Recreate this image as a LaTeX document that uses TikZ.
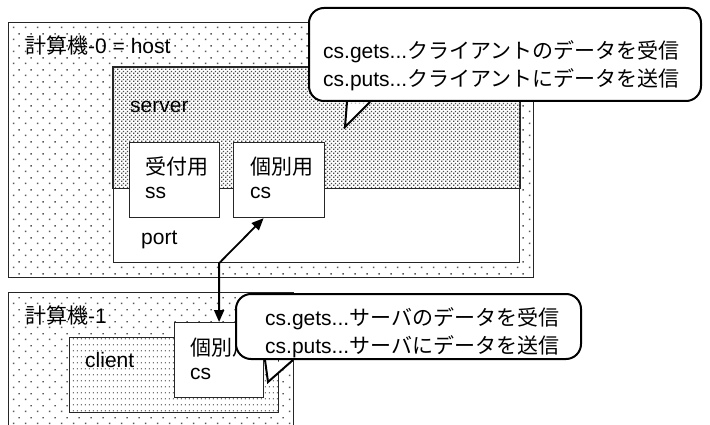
\documentclass[tikz,border=0pt]{standalone}
\usepackage{fontspec}
\setmainfont{Liberation Sans}
\newfontfamily\jp{Noto Sans CJK JP}
\usetikzlibrary{patterns,arrows.meta}

% dot fills
\pgfdeclarepatternformonly{hostdots}{\pgfqpoint{0pt}{0pt}}{\pgfqpoint{12pt}{12pt}}{\pgfqpoint{12pt}{12pt}}{%
  \pgfpathrectangle{\pgfqpoint{1pt}{1pt}}{\pgfqpoint{1.5pt}{1.5pt}}%
  \pgfpathrectangle{\pgfqpoint{7pt}{7pt}}{\pgfqpoint{1.5pt}{1.5pt}}%
  \pgfusepath{fill}}
\pgfdeclarepatternformonly{srvdots}{\pgfqpoint{0pt}{0pt}}{\pgfqpoint{4.2pt}{4.2pt}}{\pgfqpoint{4.2pt}{4.2pt}}{%
  \pgfpathrectangle{\pgfqpoint{0pt}{0pt}}{\pgfqpoint{1.6pt}{1.6pt}}%
  \pgfpathrectangle{\pgfqpoint{2.1pt}{2.1pt}}{\pgfqpoint{1.6pt}{1.6pt}}%
  \pgfusepath{fill}}
\pgfdeclarepatternformonly{clidots}{\pgfqpoint{0pt}{0pt}}{\pgfqpoint{4.3pt}{6pt}}{\pgfqpoint{4.3pt}{6pt}}{%
  \pgfpathrectangle{\pgfqpoint{1pt}{2pt}}{\pgfqpoint{1.2pt}{1.2pt}}%
  \pgfusepath{fill}}

\tikzset{
  box/.style={draw=black!85, line width=1.2pt, anchor=north west, inner sep=0pt},
  boxline/.style={draw=black!85, line width=1.2pt},
  lbl/.style={anchor=base west, inner sep=0pt, font=\fontsize{21}{24}\selectfont},
  lbl2/.style={anchor=north west, inner sep=0pt, align=left, font=\fontsize{21}{24}\selectfont},
  bubble/.style={draw, line width=2pt, fill=white, rounded corners=15pt, anchor=north west, inner sep=0pt},
  bubline/.style={line width=2pt, line join=miter},
  note/.style={anchor=north west, inner sep=0pt, align=left, font=\fontsize{21}{28}\selectfont},
  link/.style={{Triangle[length=12pt,width=10pt]}-{Triangle[length=12pt,width=10pt]}, line width=1.8pt}
}

\begin{document}
\begin{tikzpicture}[x=1pt,y=-1pt]
  \useasboundingbox (0,0) rectangle (710,425);
  \clip (0,0) rectangle (710,425);

  % host side
  \node[box, pattern=hostdots, pattern color=black!65, minimum width=525, minimum height=255] (host0) at (8,22) {};
  \node[lbl] (host0lbl) at (25,54) {{\jp 計算機}-0 = host};
  \node[box, fill=white, minimum width=406, minimum height=195] (srv) at (113,67) {};
  \draw[boxline, pattern=srvdots, pattern color=black!70] (srv.north west) rectangle ([yshift=75]srv.south east);
  \node[lbl] (srvlbl) at (130,113) {server};
  \node[lbl] (portlbl) at (141,244) {port};
  \node[box, fill=white, minimum width=90, minimum height=75] (ss0) at (129,142) {};
  \node[lbl2] (ss0lbl) at (145,157) {{\jp 受付用}\\ss};
  \node[box, fill=white, minimum width=91, minimum height=75] (cs0) at (233,142) {};
  \node[lbl2] (cs0lbl) at (250,157) {{\jp 個別用}\\cs};

  \node[bubble, minimum width=392, minimum height=93] (bub0) at (308,7) {};
  \coordinate (tip0) at (345,127);
  \fill[white] ([shift={(39,1.5)}]bub0.south west) -- (tip0) -- ([shift={(62,1.5)}]bub0.south west) -- cycle;
  \draw[bubline] ([xshift=39]bub0.south west) -- (tip0) -- ([xshift=62]bub0.south west);
  \node[note] (txt0) at (323,40) {cs.gets...{\jp クライアントのデータを受信}\\cs.puts...{\jp クライアントにデータを送信}};

  % client side
  \node[box, pattern=hostdots, pattern color=black!65, minimum width=285, minimum height=160] (host1) at (8,292) {};
  \node[lbl] (host1lbl) at (25,323) {{\jp 計算機}-1};
  \node[box, preaction={fill=white}, pattern=clidots, pattern color=black!55, minimum width=209, minimum height=75] (cli) at (69,337) {};
  \node[lbl] (clilbl) at (85,367) {client};
  \node[box, fill=white, minimum width=89, minimum height=75] (cs1) at (174,322) {};
  \node[lbl2] (cs1lbl) at (190,338) {{\jp 個別用}\\cs};

  \draw[link] ([xshift=-15.5]cs0.south) -- (cs1.north |- srv.south) -- (cs1.north);

  \node[bubble, minimum width=345, minimum height=65] (bub1) at (235,293) {};
  \coordinate (tip1) at (268,382);
  \fill[white] ([shift={(30,1.5)}]bub1.south west) -- (tip1) -- ([shift={(58,1.5)}]bub1.south west) -- cycle;
  \draw[bubline] ([xshift=30]bub1.south west) -- (tip1) -- ([xshift=58]bub1.south west);
  \node[note] (txt1) at (265,307) {cs.gets...{\jp サーバのデータを受信}\\cs.puts...{\jp サーバにデータを送信}};
\end{tikzpicture}
\end{document}
